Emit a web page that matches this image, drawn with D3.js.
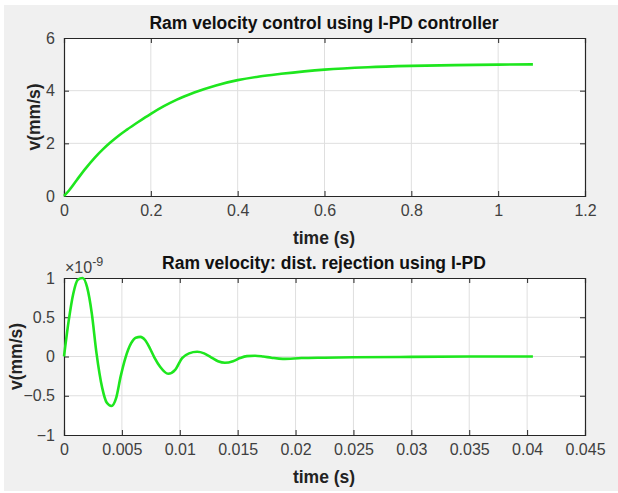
<!DOCTYPE html>
<html>
<head>
<meta charset="utf-8">
<script src="https://cdn.jsdelivr.net/npm/d3@7"></script>
<style>
body { margin: 0; background: #fff; }
text { font-family: "Liberation Sans", Arial, sans-serif; }
</style>
</head>
<body>
<script>
// step response, top axes
var stepTime = [0, 0.01, 0.03, 0.05, 0.07, 0.09, 0.106, 0.125, 0.145, 0.17, 0.2, 0.23, 0.26, 0.3, 0.35, 0.4, 0.45, 0.5, 0.6, 0.7, 0.8, 0.9, 1.0, 1.08];
var stepVel  = [0, 0.18, 0.62, 1.05, 1.44, 1.78, 2.02, 2.28, 2.52, 2.80, 3.12, 3.41, 3.66, 3.93, 4.20, 4.40, 4.54, 4.64, 4.80, 4.89, 4.94, 4.97, 4.99, 5.0];

// disturbance response, bottom axes (values x 1e-9)
var distTime = [0, 0.0004, 0.0008, 0.0012, 0.0016, 0.002, 0.0024, 0.0028, 0.0033, 0.0037, 0.0041, 0.0045, 0.0049, 0.0053, 0.0058, 0.0062, 0.0066, 0.007, 0.0074, 0.0078, 0.0083, 0.009, 0.0096, 0.0102, 0.0108, 0.0115, 0.0121, 0.0127, 0.0133, 0.0139, 0.0146, 0.0152, 0.0158, 0.0165, 0.0172, 0.0179, 0.0189, 0.0205, 0.0225, 0.025, 0.03, 0.035, 0.0405];
var distVel  = [0, 0.45, 0.80, 0.98, 1.0, 0.88, 0.55, 0.05, -0.40, -0.59, -0.63, -0.53, -0.25, -0.02, 0.17, 0.24, 0.25, 0.21, 0.11, -0.01, -0.13, -0.22, -0.17, -0.02, 0.04, 0.06, 0.04, -0.01, -0.06, -0.08, -0.06, -0.02, 0.005, 0.01, 0.0, -0.015, -0.03, -0.02, -0.015, -0.01, -0.005, 0.0, 0.0];

var xTicksTop = [0, 0.2, 0.4, 0.6, 0.8, 1, 1.2];
var yTicksTop = [0, 2, 4, 6];
var xTicksBot = [0, 0.005, 0.01, 0.015, 0.02, 0.025, 0.03, 0.035, 0.04, 0.045];
var yTicksBot = [-1, -0.5, 0, 0.5, 1];

var width = 618, height = 493;
var svg = d3.select("body").append("svg")
    .attr("width", width)
    .attr("height", height);

svg.append("rect")
    .attr("x", 4).attr("y", 5)
    .attr("width", width - 4).attr("height", 486)
    .attr("fill", "#f0f0f0");

var lineColor = "#1ee61e";
var axisColor = "#262626";

function drawPlot(opt) {
    var x = d3.scaleLinear().domain(opt.xDomain).range([64, 585]);
    var y = d3.scaleLinear().domain(opt.yDomain).range([opt.bottom, opt.top]);
    var g = svg.append("g");

    g.append("rect")
        .attr("x", 64).attr("y", opt.top)
        .attr("width", 521).attr("height", opt.bottom - opt.top)
        .attr("fill", "#fff");

    // grid
    g.selectAll(".gx").data(opt.xTicks.slice(1, -1)).enter().append("line")
        .attr("x1", d => x(d)).attr("x2", d => x(d))
        .attr("y1", opt.top).attr("y2", opt.bottom)
        .attr("stroke", "#dfdfdf").attr("stroke-width", 1);
    g.selectAll(".gy").data(opt.yTicks.slice(1, -1)).enter().append("line")
        .attr("y1", d => y(d)).attr("y2", d => y(d))
        .attr("x1", 64).attr("x2", 585)
        .attr("stroke", "#dfdfdf").attr("stroke-width", 1);

    // axes, inward ticks on all four sides
    var bottomAx = d3.axisBottom(x).tickValues(opt.xTicks).tickSize(-5).tickFormat(d3.format("~g")).tickPadding(9);
    var topAx = d3.axisTop(x).tickValues(opt.xTicks).tickSize(-5).tickFormat("");
    var leftAx = d3.axisLeft(y).tickValues(opt.yTicks).tickSize(-5).tickFormat(d3.format("~g")).tickPadding(9);
    var rightAx = d3.axisRight(y).tickValues(opt.yTicks).tickSize(-5).tickFormat("");

    [g.append("g").attr("transform", "translate(0," + opt.bottom + ")").call(bottomAx),
     g.append("g").attr("transform", "translate(0," + opt.top + ")").call(topAx),
     g.append("g").attr("transform", "translate(64,0)").call(leftAx),
     g.append("g").attr("transform", "translate(585,0)").call(rightAx)].forEach(function(a) {
        a.select(".domain").attr("stroke", axisColor).attr("stroke-width", 1.2);
        a.selectAll(".tick line").attr("stroke", axisColor);
        a.selectAll("text").attr("fill", "#404040").style("font-size", "16px");
    });

    // curve
    var pts = opt.xs.map((t, i) => [t, opt.ys[i]]);
    g.append("path")
        .datum(pts)
        .attr("d", d3.line().x(d => x(d[0])).y(d => y(d[1])).curve(d3.curveMonotoneX))
        .attr("fill", "none")
        .attr("stroke", lineColor)
        .attr("stroke-width", 2.6)
        .attr("stroke-linejoin", "round");

    g.append("text")
        .attr("x", 324).attr("y", opt.top - 9)
        .attr("text-anchor", "middle")
        .attr("font-weight", "bold").attr("font-size", 17.5)
        .attr("fill", "#111")
        .text(opt.title);

    g.append("text")
        .attr("x", 324).attr("y", opt.bottom + 48)
        .attr("text-anchor", "middle")
        .attr("font-weight", "bold").attr("font-size", 17.5)
        .attr("fill", "#222")
        .text("time (s)");

    g.append("text")
        .attr("transform", "translate(" + opt.yLabelX + "," + (opt.top + opt.bottom) / 2 + ") rotate(-90)")
        .attr("text-anchor", "middle")
        .attr("font-weight", "bold").attr("font-size", 17.5)
        .attr("fill", "#222")
        .text("v(mm/s)");
    return g;
}

drawPlot({
    xDomain: [0, 1.2], yDomain: [0, 6], top: 38, bottom: 196,
    xTicks: xTicksTop, yTicks: yTicksTop,
    xs: stepTime, ys: stepVel, yLabelX: 40,
    title: "Ram velocity control using I-PD controller"
});

var bot = drawPlot({
    xDomain: [0, 0.045], yDomain: [-1, 1], top: 278, bottom: 435,
    xTicks: xTicksBot, yTicks: yTicksBot,
    xs: distTime, ys: distVel, yLabelX: 22,
    title: "Ram velocity: dist. rejection using I-PD"
});

// exponent label
var ex = bot.append("text")
    .attr("x", 65).attr("y", 273)
    .attr("fill", "#404040").style("font-size", "16px");
ex.append("tspan").text("\u00d710");
ex.append("tspan").attr("dy", -7).style("font-size", "12.5px").text("-9");
</script>
</body>
</html>
